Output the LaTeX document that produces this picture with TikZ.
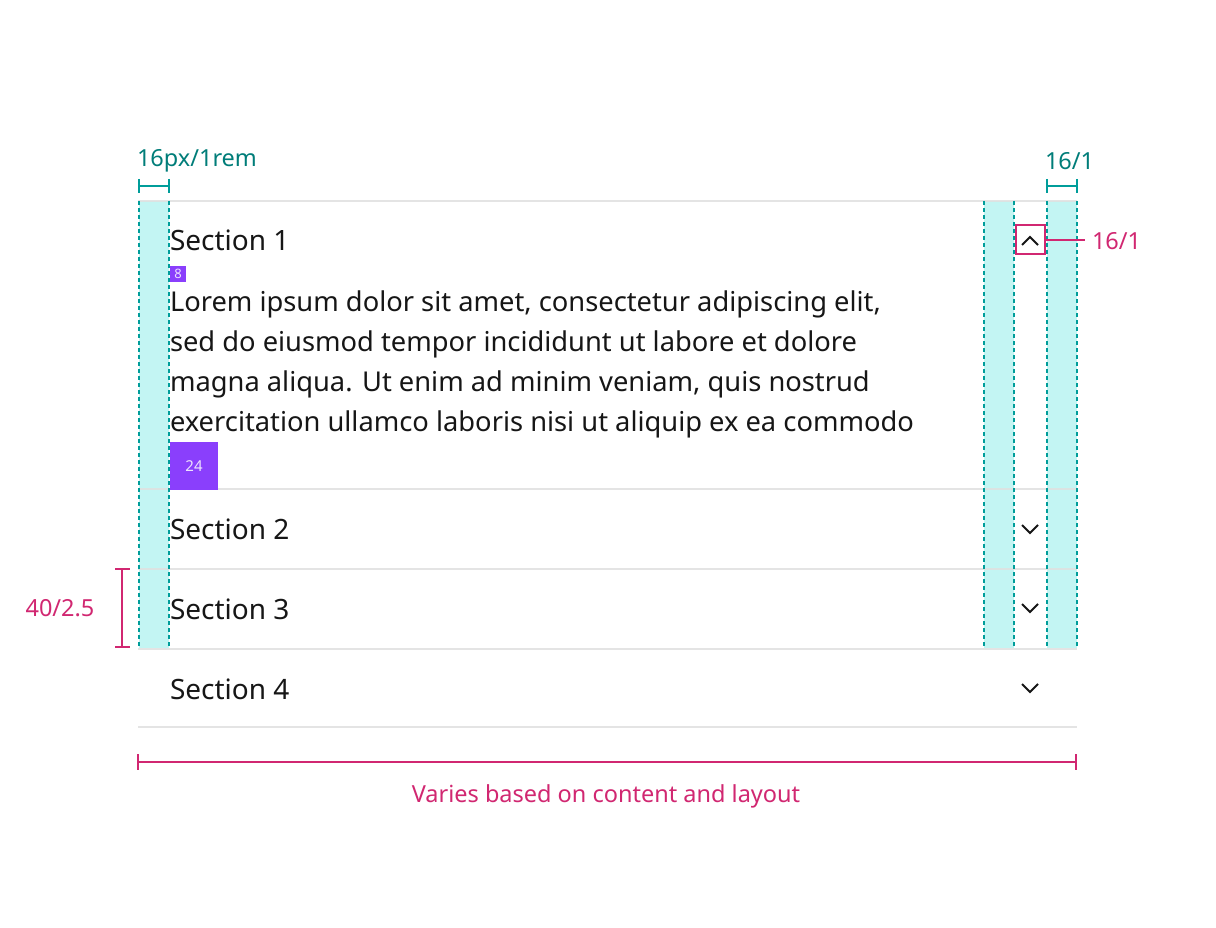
\documentclass[tikz,border=0pt]{standalone}
\usepackage{fontspec}
\setmainfont{Noto Sans}
\begin{document}
\begin{tikzpicture}[x=1pt,y=-1pt,
  every node/.style={inner sep=0pt,outer sep=0pt},
  body/.style={anchor=base west,text=txt,font=\fontsize{28}{28}\selectfont},
  para/.style={anchor=base west,text=txt,font=\fontsize{27.3}{27.3}\selectfont},
  teallbl/.style={text=tealtxt,font=\fontsize{23.5}{23.5}\selectfont},
  pinklbl/.style={text=pinkc,font=\fontsize{23.5}{23.5}\selectfont},
  guide/.style={draw=tealc,line width=2pt,dash pattern=on 4pt off 3pt},
  colfill/.style={fill=cyanc},
  divider/.style={draw=grayl,line width=2pt,opacity=0.85},
  tealdim/.style={draw=tealc,line width=2pt},
  pinkdim/.style={draw=pinkc,line width=2pt},
  chev/.style={draw=txt,line width=2pt,line join=miter},
  tag/.style={fill=purp,text=white!85!purp}
]
\definecolor{tealc}{HTML}{009D9A}
\definecolor{tealtxt}{HTML}{007D79}
\definecolor{cyanc}{HTML}{C3F5F3}
\definecolor{pinkc}{HTML}{D12771}
\definecolor{purp}{HTML}{8A3FFC}
\definecolor{grayl}{HTML}{E0E0E0}
\definecolor{txt}{HTML}{161616}
\useasboundingbox (0,0) rectangle (1216,928);
\fill[white] (0,0) rectangle (1216,928);

% cyan columns
\fill[colfill] (139,201) rectangle (169,648);
\fill[colfill] (984,201) rectangle (1014,648);
\fill[colfill] (1047,201) rectangle (1077,648);

% dividers
\draw[divider] (138,201) -- (1077,201);
\draw[divider] (138,489) -- (1077,489);
\draw[divider] (138,569) -- (1077,569);
\draw[divider] (138,649) -- (1077,649);
\draw[divider] (138,727) -- (1077,727);

% guides
\foreach \x in {139,169,984,1014,1047,1077}
  \draw[guide] (\x,201) -- (\x,648);

% section titles
\node[body] (s1) at (170,251) {Section 1};
\node[body] (s2) at (170,539) {Section 2};
\node[body] (s3) at (170,619) {Section 3};
\node[body] (s4) at (170,699) {Section 4};

% body text
\node[para] (l1) at (170,311) {Lorem ipsum dolor sit amet, consectetur adipiscing elit,};
\node[para] (l2) at (170,351) {sed do eiusmod tempor incididunt ut labore et dolore};
\node[para] (l3) at (170,391) {magna aliqua. Ut enim ad minim veniam, quis nostrud};
\node[para] (l4) at (170,431) {exercitation ullamco laboris nisi ut aliquip ex ea commodo};

% spacing tags
\node[tag,minimum width=16pt,minimum height=16pt,anchor=north west,font=\fontsize{13}{13}\selectfont] (t8) at (170,266) {8};
\node[tag,minimum width=48pt,minimum height=48pt,anchor=north west,font=\fontsize{15}{15}\selectfont] (t24) at (170,442) {24};

% chevrons
\draw[chev] (1022,245) -- (1030,237) -- (1038,245);
\draw[chev] (1022,525) -- (1030,533) -- (1038,525);
\draw[chev] (1022,604) -- (1030,612) -- (1038,604);
\draw[chev] (1022,684) -- (1030,692) -- (1038,684);

% icon box
\node[draw=pinkc,line width=2pt,minimum width=29pt,minimum height=29pt] (ibox) at (1030,240) {};
\node[pinklbl,anchor=west] (ilbl) at (1092,241) {16/1};
\draw[pinkdim] (ibox.east) -- (1085,240);

% top-left dimension
\coordinate (tl1) at (139,186);
\coordinate (tl2) at (169,186);
\draw[tealdim] (tl1) -- (tl2);
\draw[tealdim] (139,179) -- (139,193);
\draw[tealdim] (169,179) -- (169,193);
\node[teallbl,anchor=base west] (tllbl) at (137,167) {16px/1rem};

% top-right dimension
\coordinate (tr1) at (1047,186);
\coordinate (tr2) at (1077,186);
\draw[tealdim] (tr1) -- (tr2);
\draw[tealdim] (1047,179) -- (1047,193);
\draw[tealdim] (1077,179) -- (1077,193);
\node[teallbl,anchor=base west] (trlbl) at (1045,170) {16/1};

% left height dimension
\coordinate (h1) at (122,569);
\coordinate (h2) at (122,647);
\draw[pinkdim] (h1) -- (h2);
\draw[pinkdim] (115,569) -- (130,569);
\draw[pinkdim] (115,647) -- (130,647);
\node[pinklbl] (hlbl) at (60,608) {40/2.5};

% bottom width dimension
\coordinate (w1) at (138,762);
\coordinate (w2) at (1076,762);
\draw[pinkdim] (w1) -- (w2);
\draw[pinkdim] (138,754) -- (138,770);
\draw[pinkdim] (1076,754) -- (1076,770);
\node[pinklbl,anchor=base] (wlbl) at (606,802) {Varies based on content and layout};
\end{tikzpicture}
\end{document}
